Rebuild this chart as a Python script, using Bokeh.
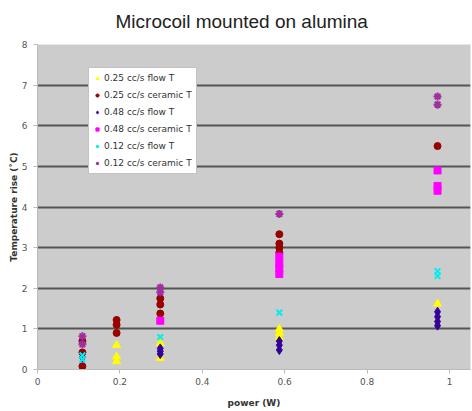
from bokeh.plotting import figure
from bokeh.models import Legend, LegendItem, FixedTicker, Range1d, NumeralTickFormatter
from bokeh.embed import file_html
from bokeh.resources import INLINE

# power (W) and temperature rise (°C), per series
flow25_x = [0.192, 0.192, 0.192, 0.298, 0.298, 0.587, 0.587, 0.587, 0.971]
flow25_y = [0.60, 0.32, 0.20, 0.65, 0.28, 1.00, 0.90, 0.80, 1.62]

cer25_x = [0.109, 0.109, 0.109, 0.192, 0.192, 0.192, 0.298, 0.298, 0.298, 0.587, 0.587, 0.587, 0.587, 0.971]
cer25_y = [0.70, 0.42, 0.08, 1.22, 1.10, 0.90, 1.75, 1.60, 1.38, 3.33, 3.10, 3.00, 2.88, 5.50]

flow48_x = [0.109, 0.298, 0.298, 0.298, 0.587, 0.587, 0.587, 0.971, 0.971, 0.971, 0.971]
flow48_y = [0.30, 0.52, 0.45, 0.38, 0.70, 0.60, 0.48, 1.42, 1.30, 1.18, 1.08]

cer48_x = [0.298, 0.587, 0.587, 0.587, 0.587, 0.971, 0.971, 0.971]
cer48_y = [1.20, 2.78, 2.62, 2.48, 2.35, 4.90, 4.52, 4.40]

flow12_x = [0.109, 0.109, 0.298, 0.587, 0.971, 0.971]
flow12_y = [0.35, 0.25, 0.80, 1.40, 2.42, 2.30]

cer12_x = [0.109, 0.109, 0.298, 0.298, 0.587, 0.971, 0.971]
cer12_y = [0.82, 0.62, 2.02, 1.90, 3.83, 6.72, 6.52]

labels = ["0.25 cc/s flow T", "0.25 cc/s ceramic T", "0.48 cc/s flow T",
          "0.48 cc/s ceramic T", "0.12 cc/s flow T", "0.12 cc/s ceramic T"]
x_ticks = [0, 0.2, 0.4, 0.6, 0.8, 1]
y_ticks = [0, 1, 2, 3, 4, 5, 6, 7, 8]
title_text = "Microcoil mounted on alumina"

p = figure(width=472, height=411, output_backend="svg", toolbar_location=None,
           x_range=Range1d(0, 1.051), y_range=Range1d(0, 8),
           min_border_left=37, min_border_right=2, min_border_top=0, min_border_bottom=42,
           title=title_text)
p.title.align = "left"
p.title.vertical_align = "top"
p.title.text_font = "Liberation Sans"
p.title.text_font_style = "normal"
p.title.text_font_size = "19px"
p.title.text_color = "#222222"
p.title.offset = 78
p.title.standoff = 21

p.background_fill_color = "#cccccc"
p.border_fill_color = "white"
p.outline_line_color = None

p.xgrid.grid_line_color = None
p.ygrid.grid_line_color = "#555555"
p.ygrid.grid_line_width = 2

p.xaxis.ticker = FixedTicker(ticks=x_ticks)
p.yaxis.ticker = FixedTicker(ticks=y_ticks)
p.xaxis.formatter = NumeralTickFormatter(format="0.[0]")
for ax in (p.xaxis, p.yaxis):
    ax.axis_line_color = "#bbbbbb"
    ax.major_tick_line_color = "#bbbbbb"
    ax.minor_tick_line_color = None
    ax.major_tick_in = 0
    ax.major_tick_out = 4
    ax.major_label_text_font = "DejaVu Sans"
    ax.major_label_text_font_size = "9px"
    ax.major_label_text_color = "#555555"
    ax.axis_label_text_font = "DejaVu Sans"
    ax.axis_label_text_font_size = "9px"
    ax.axis_label_text_font_style = "bold"
    ax.axis_label_text_color = "#333333"
p.xaxis.axis_label = "power (W)"
p.yaxis.axis_label = "Temperature rise (˚C)"
p.xaxis.major_label_standoff = 4
p.xaxis.axis_label_standoff = 10
p.yaxis.major_label_standoff = 6
p.yaxis.axis_label_standoff = 0

r1 = p.scatter(flow25_x, flow25_y, marker="triangle", size=8, fill_color="#ffff00", line_color="#ffff00")
r2 = p.scatter(cer25_x, cer25_y, marker="circle", size=7, fill_color="#990000", line_color="#990000")
r3 = p.scatter(flow48_x, flow48_y, marker="diamond", size=9, fill_color="#330099", line_color="#330099")
r4 = p.scatter(cer48_x, cer48_y, marker="square", size=7, fill_color="#ff00ff", line_color="#ff00ff")
r5 = p.scatter(flow12_x, flow12_y, marker="x", size=8, line_color="#00eeee", line_width=2)
r6 = p.scatter(cer12_x, cer12_y, marker="asterisk", size=8, line_color="#a0309f", line_width=2)

items = [LegendItem(label=l, renderers=[r]) for l, r in zip(labels, [r1, r2, r3, r4, r5, r6])]
legend = Legend(items=items, location=(51, 195))
legend.label_text_font = "DejaVu Sans"
legend.label_text_font_size = "9px"
legend.label_text_color = "#333333"
legend.glyph_width = 8
legend.glyph_height = 12
legend.label_height = 12
legend.spacing = 5
legend.padding = 4
legend.margin = 0
legend.label_standoff = 3
legend.border_line_color = "#888888"
legend.background_fill_color = "white"
legend.background_fill_alpha = 1
p.add_layout(legend, "center")

open("out.html", "w").write(file_html(p, INLINE))
